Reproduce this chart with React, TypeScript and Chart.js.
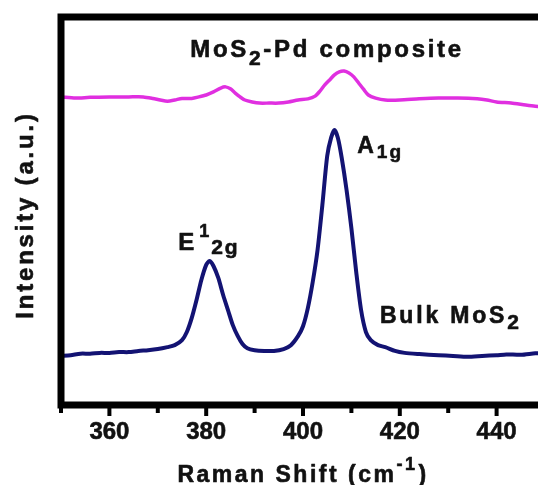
import React, { useEffect, useRef } from "react";
import { Chart, registerables } from "chart.js";

Chart.register(...registerables);

// ---- data ----
const bulkShift = [
  350, 352, 354, 356, 358, 360, 362, 364, 366, 368, 370, 372, 373.5, 375, 376, 377, 378, 379, 380, 380.7,
  381.5, 382.5, 383.5, 384.5, 385.5, 386.5, 387.5, 388.5, 390, 392, 394, 396, 397.5, 399, 400, 401, 402,
  403, 404, 405, 405.8, 406.5, 407.2, 408, 409, 410, 411, 412, 413, 414, 415.5, 417, 419, 421, 424, 428,
  431, 434, 437, 440, 442, 445, 448, 450,
];
const bulkIntensity = [
  122, 124, 128, 128, 130, 130, 132, 132, 135, 137, 140, 145, 150, 163, 184, 220, 267, 319, 358, 368,
  355, 324, 280, 241, 202, 174, 153, 142, 137, 135, 135, 140, 150, 174, 199, 246, 313,
  396, 513, 640, 687, 707, 687, 635, 552, 453, 339, 241, 184, 163, 150, 145, 135, 130, 127, 124,
  122, 120, 122, 124, 126, 125, 129, 130,
];
const compShift = [
  350, 353, 356, 360, 364, 367, 369, 370.5, 372, 373.5, 375, 377, 378.5, 380, 381.5, 383, 384, 385, 386,
  387, 388, 389.5, 391, 393, 395, 397, 399, 401, 402.5, 403.5, 404.5, 405.5, 406.5, 407.5, 408.5, 409.5,
  410.5, 411.5, 412.5, 413.5, 415, 417, 420, 424, 428, 432, 436, 438, 440, 443, 446, 448, 450,
];
const compIntensity = [
  793, 790, 792, 793, 793, 793, 789, 785, 782, 785, 789, 789, 793, 798, 806, 816, 819, 814, 803,
  793, 785, 780, 777, 777, 777, 780, 785, 788, 795, 808, 824, 837, 850, 858, 860, 855,
  845, 829, 813, 798, 790, 785, 785, 788, 790, 790, 788, 785, 780, 777, 772, 769, 767,
];
const majorTicks = [360, 380, 400, 420, 440];
const minorTicks = [350, 370, 390, 410, 430, 450];
const xRange = [350, 450];
const yRange = [-5, 1000];

const xTitle = "Raman Shift (cm";
const yTitle = "Intensity (a.u.)";

const FONT = '"Liberation Sans", Arial, sans-serif';
const TEXT = "#111111";
const NAVY = "#131373";
const MAGENTA = "#e02fe0";

type Seg = { t: string; size: number; dy: number; gap?: number };
type Note = { x: number; y: number; sp: number; segs: Seg[] };

const notes: Note[] = [
  {
    x: 376.7,
    y: 896,
    sp: 2.7,
    segs: [
      { t: "MoS", size: 24, dy: 0 },
      { t: "2", size: 21, dy: 8 },
      { t: "-Pd composite", size: 24, dy: 0 },
    ],
  },
  {
    x: 374.2,
    y: 396,
    sp: 2,
    segs: [
      { t: "E", size: 24, dy: 0 },
      { t: "1", size: 18, dy: -13, gap: 3 },
      { t: "2g", size: 21, dy: 4 },
    ],
  },
  {
    x: 411.2,
    y: 648,
    sp: 2,
    segs: [
      { t: "A", size: 23, dy: 0 },
      { t: "1g", size: 19, dy: 5, gap: 1 },
    ],
  },
  {
    x: 415.9,
    y: 207,
    sp: 2.8,
    segs: [
      { t: "Bulk MoS", size: 23, dy: 0 },
      { t: "2", size: 21, dy: 6 },
    ],
  },
];

function measureRich(ctx: CanvasRenderingContext2D, segs: Seg[]) {
  let w = 0;
  for (const s of segs) {
    ctx.font = `bold ${s.size}px ${FONT}`;
    w += (s.gap || 0) + ctx.measureText(s.t).width;
  }
  return w;
}

function drawRich(ctx: CanvasRenderingContext2D, x: number, y: number, segs: Seg[]) {
  let cx = x;
  ctx.textAlign = "left";
  ctx.textBaseline = "alphabetic";
  for (const s of segs) {
    ctx.font = `bold ${s.size}px ${FONT}`;
    cx += s.gap || 0;
    ctx.strokeText(s.t, cx, y + s.dy);
    ctx.fillText(s.t, cx, y + s.dy);
    cx += ctx.measureText(s.t).width;
  }
}

const framePlugin = {
  id: "frameAndText",
  afterDraw(chart: any) {
    const ctx: CanvasRenderingContext2D = chart.ctx;
    const { left, right, top, bottom } = chart.chartArea;
    const xs = chart.scales.x;
    const ys = chart.scales.y;
    ctx.save();
    // frame
    ctx.strokeStyle = "#000";
    ctx.lineWidth = 7;
    ctx.lineJoin = "miter";
    ctx.strokeRect(left, top, right - left, bottom - top);
    // tick marks
    ctx.lineWidth = 4;
    ctx.lineCap = "butt";
    for (const v of majorTicks) {
      const px = xs.getPixelForValue(v);
      ctx.beginPath();
      ctx.moveTo(px, bottom);
      ctx.lineTo(px, bottom + 11);
      ctx.stroke();
    }
    for (const v of minorTicks) {
      const px = xs.getPixelForValue(v);
      ctx.beginPath();
      ctx.moveTo(px, bottom);
      ctx.lineTo(px, bottom + 8);
      ctx.stroke();
    }
    // annotations
    ctx.fillStyle = TEXT;
    ctx.strokeStyle = TEXT;
    ctx.lineWidth = 0.6;
    ctx.lineJoin = "round";
    for (const n of notes) {
      (ctx as any).letterSpacing = `${n.sp}px`;
      drawRich(ctx, xs.getPixelForValue(n.x), ys.getPixelForValue(n.y), n.segs);
    }
    // x title
    const xSegs: Seg[] = [
      { t: xTitle, size: 23, dy: 0 },
      { t: "-1", size: 18, dy: -12 },
      { t: ")", size: 23, dy: 0, gap: 1 },
    ];
    (ctx as any).letterSpacing = "2.5px";
    const w = measureRich(ctx, xSegs);
    drawRich(ctx, (left + right) / 2 - w / 2, 482, xSegs);
    // y title
    (ctx as any).letterSpacing = "2.8px";
    ctx.translate(33, (top + bottom) / 2 + 4);
    ctx.rotate(-Math.PI / 2);
    ctx.font = `bold 24px ${FONT}`;
    ctx.textAlign = "center";
    ctx.textBaseline = "alphabetic";
    ctx.strokeText(yTitle, 0, 0);
    ctx.fillText(yTitle, 0, 0);
    ctx.restore();
  },
};

export default function App() {
  const ref = useRef<HTMLCanvasElement | null>(null);
  useEffect(() => {
    if (!ref.current) return;
    const chart = new Chart(ref.current, {
      type: "line",
      data: {
        datasets: [
          {
            label: "MoS2-Pd composite",
            data: compShift.map((x, i) => ({ x, y: compIntensity[i] })),
            borderColor: MAGENTA,
            borderWidth: 3.5,
            pointRadius: 0,
            tension: 0.25,
          },
          {
            label: "Bulk MoS2",
            data: bulkShift.map((x, i) => ({ x, y: bulkIntensity[i] })),
            borderColor: NAVY,
            borderWidth: 4,
            pointRadius: 0,
            tension: 0.25,
          },
        ],
      },
      options: {
        responsive: false,
        animation: false,
        devicePixelRatio: 1,
        layout: { padding: { left: 61, top: 17, right: 5, bottom: 0 } },
        plugins: {
          legend: { display: false },
          tooltip: { enabled: false },
          title: { display: false },
        },
        scales: {
          x: {
            type: "linear",
            min: xRange[0],
            max: xRange[1],
            grid: { display: false, drawTicks: false },
            border: { display: false },
            ticks: {
              font: { size: 24, weight: "bold", family: FONT },
              color: TEXT,
              textStrokeColor: TEXT,
              textStrokeWidth: 0.6,
              padding: 13,
              maxRotation: 0,
              autoSkip: false,
            },
            afterBuildTicks: (s: any) => {
              s.ticks = majorTicks.map((v) => ({ value: v }));
            },
            afterFit: (s: any) => {
              s.height = 80;
            },
          },
          y: { display: false, min: yRange[0], max: yRange[1] },
        },
      },
      plugins: [framePlugin],
    } as any);
    return () => chart.destroy();
  }, []);
  return (
    <div
      style={{
        position: "absolute",
        left: 0,
        top: 0,
        width: 538,
        height: 485,
        overflow: "hidden",
        background: "#fff",
      }}
    >
      <canvas ref={ref} width={550} height={485} style={{ display: "block" }} />
    </div>
  );
}
